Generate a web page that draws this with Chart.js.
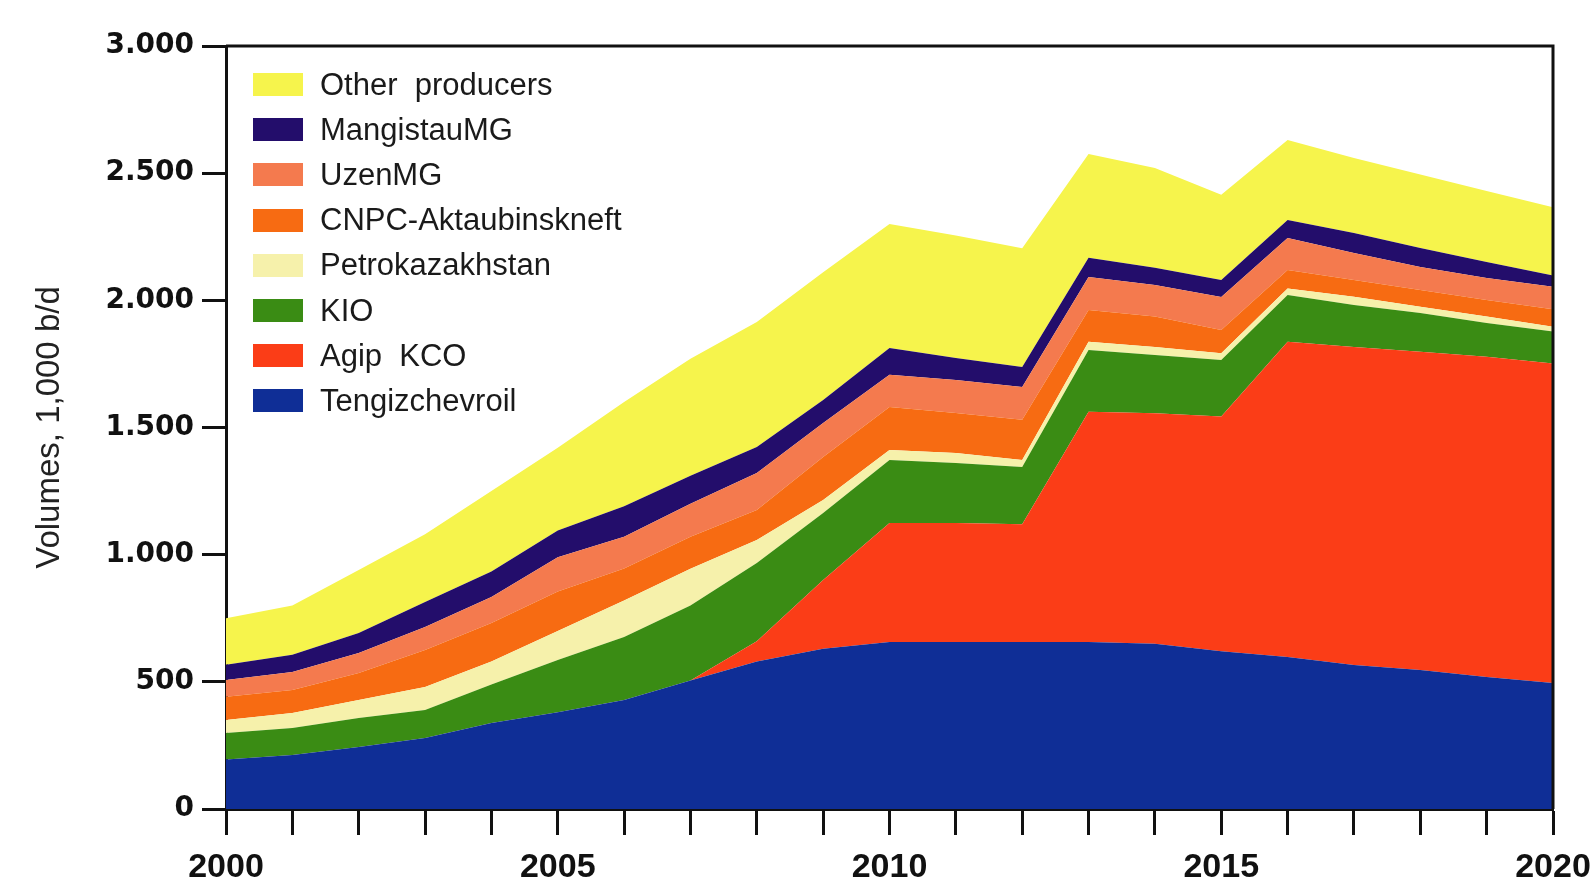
<!DOCTYPE html>
<html>
<head>
<meta charset="utf-8">
<script src="https://cdn.jsdelivr.net/npm/chart.js@4.4.1/dist/chart.umd.min.js"></script>
<style>
  html, body { margin: 0; padding: 0; background: #fff; }
  #wrap { position: relative; width: 1594px; height: 879px; }
  #legend {
    position: absolute; left: 253px; top: 62px;
    font-family: 'Liberation Sans Narrow', 'Liberation Sans', sans-serif;
    font-size: 31px; color: #1a1a1a;
  }
  .item { display: flex; align-items: center; height: 45.2px; }
  .sw { width: 50px; height: 23px; margin-right: 17px; }
</style>
</head>
<body>
<div id="wrap">
  <canvas id="myChart" width="1594" height="879"></canvas>
  <div id="legend"></div>
</div>
<script>
// values in 1,000 b/d (stacked bottom -> top)
var years = ['2000','2001','2002','2003','2004','2005','2006','2007','2008','2009','2010',
             '2011','2012','2013','2014','2015','2016','2017','2018','2019','2020'];

var tengiz    = [195,212,244,279,338,380,429,505,580,630,657,657,657,657,650,620,598,566,547,519,495];
var agip      = [0,0,0,0,0,0,0,0,80,270,468,468,463,905,906,923,1239,1251,1251,1259,1257];
var kio       = [104,106,114,110,152,206,247,295,307,264,247,235,225,243,229,222,184,165,152,133,125];
var petro     = [51,59,71,91,90,114,144,145,91,51,40,40,27,32,32,27,26,32,25,25,19];
var cnpc      = [91,91,106,145,151,155,126,125,118,169,169,157,158,125,119,91,72,66,66,65,69];
var uzen      = [66,71,78,91,103,135,124,130,145,134,126,130,129,130,124,130,126,106,90,87,88];
var mangistau = [60,67,79,98,100,105,120,110,102,90,106,86,79,75,68,67,71,79,75,63,45];
var other     = [183,194,248,266,316,325,410,460,492,502,487,482,467,408,392,335,314,295,289,279,268];

var yTicks = [0, 500, 1000, 1500, 2000, 2500, 3000];

function area(label, data, color, fill) {
  return {
    label: label,
    data: data,
    backgroundColor: color,
    borderColor: color,
    borderWidth: 0,
    pointRadius: 0,
    tension: 0,
    fill: fill
  };
}

var datasets = [
  area('Tengizchevroil', tengiz, '#0f2e96', 'origin'),
  area('Agip  KCO', agip, '#fb3d17', '-1'),
  area('KIO', kio, '#3a8c14', '-1'),
  area('Petrokazakhstan', petro, '#f6f1ab', '-1'),
  area('CNPC-Aktaubinskneft', cnpc, '#f76b12', '-1'),
  area('UzenMG', uzen, '#f47a4e', '-1'),
  area('MangistauMG', mangistau, '#230d6b', '-1'),
  area('Other  producers', other, '#f6f44c', '-1')
];

// frame on top and right of the plot
var framePlugin = {
  id: 'frame',
  afterDraw: function(chart) {
    var a = chart.chartArea, c = chart.ctx;
    c.save();
    c.strokeStyle = '#111';
    c.lineWidth = 3;
    c.beginPath();
    c.moveTo(a.left, a.top);
    c.lineTo(a.right, a.top);
    c.lineTo(a.right, a.bottom);
    c.stroke();
    c.restore();
  }
};

var ctx = document.getElementById('myChart').getContext('2d');

window.chart = new Chart(ctx, {
  type: 'line',
  data: { labels: years, datasets: datasets },
  plugins: [framePlugin],
  options: {
    responsive: false,
    animation: false,
    devicePixelRatio: 1,
    layout: { padding: { left: 0, right: 41, top: 46, bottom: 0 } },
    plugins: {
      legend: { display: false },
      tooltip: { enabled: false }
    },
    scales: {
      x: {
        z: 1,
        offset: false,
        border: { display: true, color: '#111', width: 3 },
        grid: { drawOnChartArea: false, drawTicks: true, tickLength: 26, tickWidth: 3, tickColor: '#111' },
        ticks: {
          autoSkip: false, maxRotation: 0, padding: 12, color: '#111',
          font: { family: "'Liberation Sans Narrow', 'Liberation Sans', sans-serif", size: 34, weight: 'bold' },
          callback: function(val) {
            var l = this.getLabelForValue(val);
            return (+l % 5 === 0) ? l : '';
          }
        },
        afterFit: function(s) { s.height = 70; s.paddingLeft = 0; s.paddingRight = 0; }
      },
      y: {
        z: 1,
        stacked: true,
        min: 0, max: 3000,
        border: { display: true, color: '#111', width: 3 },
        grid: { drawOnChartArea: false, drawTicks: true, tickLength: 24, tickWidth: 3, tickColor: '#111' },
        afterBuildTicks: function(s) { s.ticks = yTicks.map(function(v) { return { value: v }; }); },
        ticks: {
          padding: 8, color: '#111',
          font: { family: "'DejaVu Sans', sans-serif", size: 28, weight: 'bold' },
          callback: function(v) { return v >= 1000 ? Math.floor(v / 1000) + '.' + String(v % 1000).padStart(3, '0') : String(v); }
        },
        title: {
          display: true,
          text: 'Volumes, 1,000 b/d',
          color: '#222',
          padding: { top: 30, bottom: 0 },
          font: { family: "'Liberation Sans Narrow', 'Liberation Sans', sans-serif", size: 33, weight: 'normal' }
        },
        afterFit: function(s) { s.width = 226; s.paddingTop = 0; s.paddingBottom = 0; }
      }
    }
  }
});

// legend, top entry = top layer
var lg = document.getElementById('legend');
datasets.slice().reverse().forEach(function(d) {
  var row = document.createElement('div');
  row.className = 'item';
  var sw = document.createElement('span');
  sw.className = 'sw';
  sw.style.background = d.backgroundColor;
  var tx = document.createElement('span');
  tx.textContent = d.label;
  tx.style.whiteSpace = 'pre';
  row.appendChild(sw);
  row.appendChild(tx);
  lg.appendChild(row);
});
</script>
</body>
</html>
